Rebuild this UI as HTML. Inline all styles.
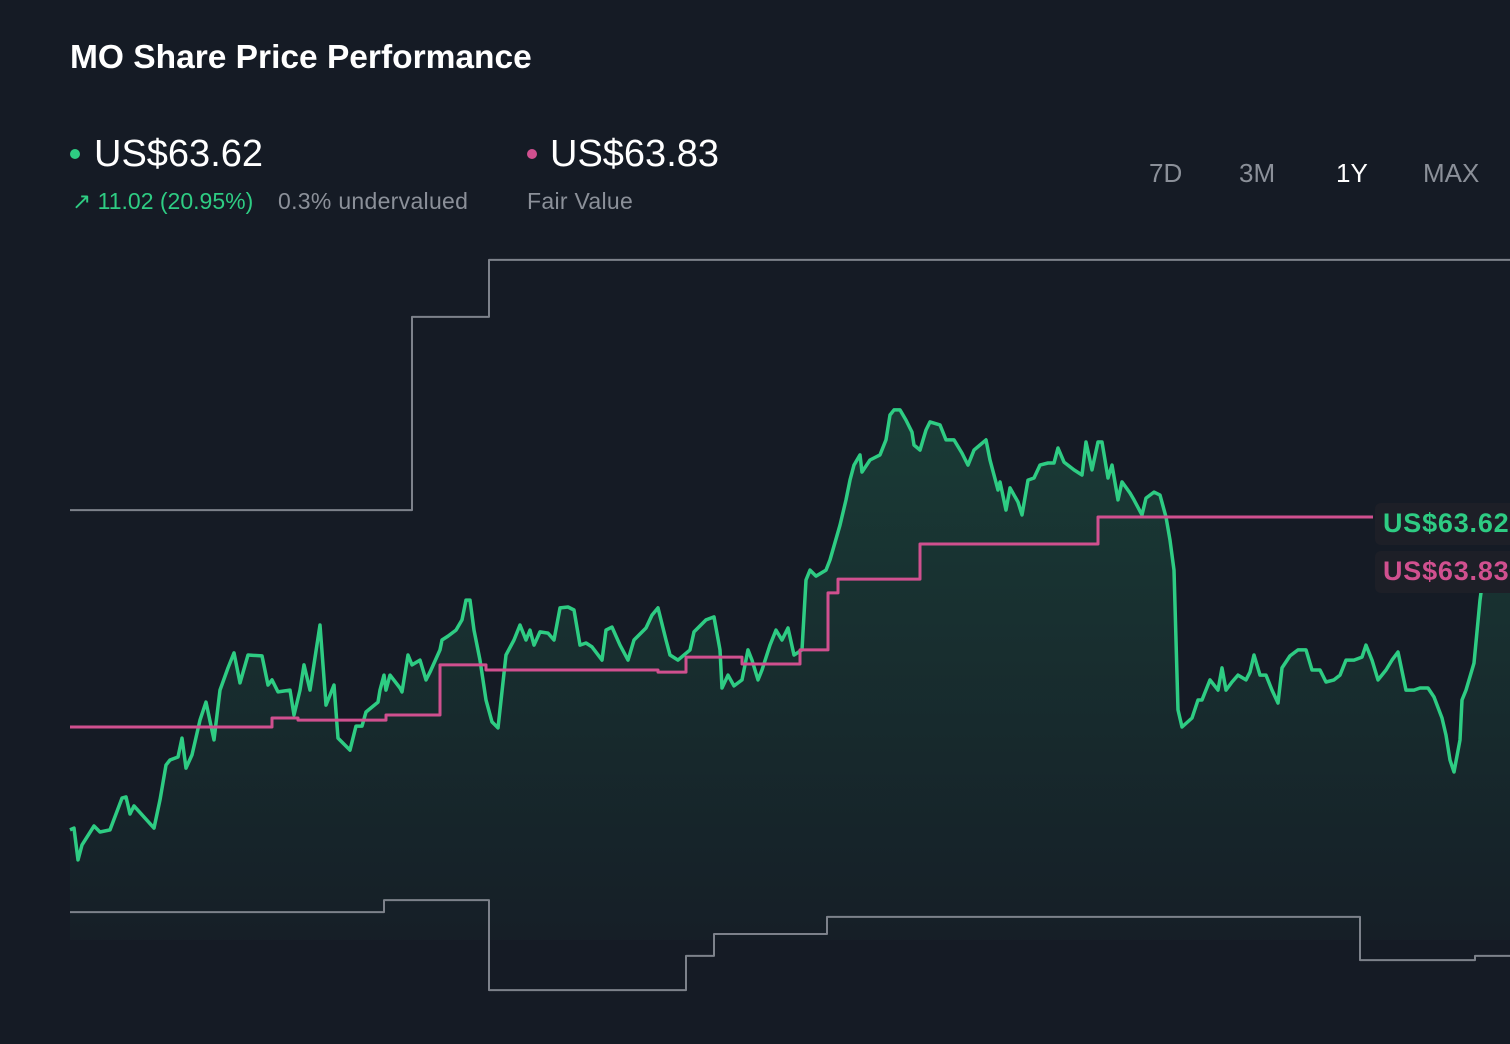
<!DOCTYPE html>
<html><head><meta charset="utf-8"><style>
body{margin:0;width:1510px;height:1044px;background:#151b25;overflow:hidden;font-family:"Liberation Sans",sans-serif;position:relative}
.a{position:absolute;white-space:nowrap}
</style></head><body>
<div class="a" style="left:70px;top:39px;font-size:33.5px;font-weight:bold;color:#fff">MO Share Price Performance</div>
<div class="a" style="left:70px;top:149px;width:10px;height:10px;border-radius:50%;background:#2ecc83"></div>
<div class="a" style="left:94px;top:133px;font-size:38px;color:#fff">US$63.62</div>
<div class="a" style="left:72px;top:188px;font-size:23px;color:#2ecc83">↗ 11.02 (20.95%)</div>
<div class="a" style="left:278px;top:188px;font-size:23px;color:#8b9099;letter-spacing:0.3px">0.3% undervalued</div>
<div class="a" style="left:527px;top:149px;width:10px;height:10px;border-radius:50%;background:#d0508f"></div>
<div class="a" style="left:550px;top:133px;font-size:38px;color:#fff">US$63.83</div>
<div class="a" style="left:527px;top:188px;font-size:23px;color:#8b9099;letter-spacing:0.3px">Fair Value</div>
<div class="a" style="left:1149px;top:158px;font-size:26px;color:#8b9099">7D</div>
<div class="a" style="left:1239px;top:158px;font-size:26px;color:#8b9099">3M</div>
<div class="a" style="left:1336px;top:158px;font-size:26px;color:#fff">1Y</div>
<div class="a" style="left:1423px;top:158px;font-size:26px;color:#8b9099">MAX</div>
<svg id="c" class="a" style="left:0;top:0" width="1510" height="1044">
<defs><linearGradient id="g" x1="0" y1="0" x2="0" y2="1"><stop offset="0" stop-color="#2ecc83" stop-opacity="0.18"/><stop offset="1" stop-color="#2ecc83" stop-opacity="0.02"/></linearGradient></defs>
</svg>
<div class="a" style="left:1375px;top:503px;width:150px;height:42px;background:#1d1f27;border-radius:6px;overflow:hidden"><span style="position:absolute;left:8px;top:5px;font-size:27px;font-weight:bold;color:#2ecc83;letter-spacing:0.8px">US$63.62</span></div>
<div class="a" style="left:1375px;top:551px;width:150px;height:42px;background:#1d1f27;border-radius:6px;overflow:hidden"><span style="position:absolute;left:8px;top:5px;font-size:27px;font-weight:bold;color:#d0508f;letter-spacing:0.8px">US$63.83</span></div>
<script>
const priceDays=[0,1,2,3,6,7.5,10,13,14,15,16,21,22.5,24,25,27,28,29,30.5,32.5,34,36,37.5,39.5,41,42.5,44.5,48,49.5,50.5,52,55,56,57.5,58.5,60,62.5,64,66,67,70,71.5,73,74,77,77.5,78.5,79,80,82.5,83,84.5,85.5,87.5,89,90,92.5,93,94.5,96.5,98,99,100,101,102.5,104,105.5,107,109,111,112.5,114,115,116,117.5,119.5,121,122.5,124.5,126,127.5,129,130.5,133,134,135.5,137.5,139.5,141,144,145.5,147,149,150,152,155,156,159,161,162.5,163,164.5,166,168,169.5,170.5,172,173,175,176.5,178,179.5,181,183,184,185,186.5,189,190,192.5,194,195,196,197.5,198,200,202.5,204,205,206,207.5,209,210.5,211,212.5,214,215,217.5,219,221,223,224.5,226,227.5,229,230,232,232.5,234,235,237,238,239.5,241,242.5,244.5,246,247,248.5,251,253,254,255.5,257,258,259.5,260.5,262,263,265,266,268,269,271,272.5,274,275,276,277,278,280.5,282,283,285,287,288,289,290.5,292,294,295,296,297.5,299,300.5,302,303,305,307,309,310.5,312.5,314,316,317.5,319,321,323,324,325.5,327,329,330.5,332,334,336,337.5,339.5,341,343,344,345,346,347.5,348,349,351,352.5,353,355,357.5,360];
const priceValues=[53.37,53.43,52.37,52.87,53.5,53.3,53.37,54.43,54.47,53.9,54.17,53.43,54.37,55.53,55.7,55.8,56.43,55.43,55.87,57.03,57.63,56.37,58.03,58.77,59.27,58.27,59.2,59.17,58.2,58.37,57.97,58.03,57.2,58.03,58.87,58.03,60.2,57.53,58.2,56.43,56.03,56.83,56.83,57.3,57.63,58.03,58.53,58.03,58.53,58.1,57.97,59.2,58.87,59.03,58.37,58.63,59.37,59.7,59.83,60.03,60.37,61.03,61.03,60.03,59.03,57.7,56.97,56.77,59.2,59.7,60.2,59.7,60.03,59.53,59.97,59.93,59.7,60.77,60.8,60.7,59.53,59.6,59.47,59.03,60.03,60.13,59.53,59.03,59.7,60.1,60.53,60.77,59.7,59.2,59.03,59.37,59.97,60.37,60.47,59.37,58.1,58.53,58.17,58.37,59.37,59.03,58.37,58.7,59.53,60.03,59.7,60.1,59.2,59.37,61.7,62.03,61.83,62.03,62.37,63.53,64.37,65.03,65.53,65.87,65.3,65.7,65.87,66.37,67.2,67.37,67.37,67.03,66.63,66.2,66.03,66.7,66.97,66.87,66.37,66.37,65.93,65.53,66.03,66.2,66.37,65.7,64.7,64.97,64.03,64.77,64.3,63.87,65.03,65.1,65.53,65.6,65.6,66.1,65.63,65.37,65.2,66.3,65.37,66.3,66.3,65.1,65.53,64.37,64.97,64.6,64.37,63.87,64.43,64.63,64.53,63.8,63.03,62.03,57.37,56.8,57.1,57.7,57.7,58.37,58.03,58.77,58.03,58.3,58.53,58.37,58.63,59.2,58.53,58.53,58.03,57.6,58.77,59.17,59.37,59.37,58.7,58.7,58.3,58.37,58.53,59.03,59.03,59.13,59.53,59.03,58.37,58.7,59.03,59.3,58.03,58.03,58.1,58.1,57.8,57.1,56.53,55.7,55.3,56.37,57.7,58.03,58.93,61.03,61.53,61.53,61.6,61.37];
const fairDays=[0,50.5,57,79,92.5,104,147,154,168,182.5,189.5,192,212.5,257,325.75];
const fairValues=[56.8,57.1,57.03,57.2,58.87,58.7,58.63,59.13,58.9,59.37,61.27,61.73,62.9,63.8];
const highDays=[0,85.5,104.75,360];
const highValues=[64.03,70.47,72.37];
const lowDays=[0,78.5,104.75,154,161,189.25,322.5,351.25,360];
const lowValues=[50.63,51.03,48.03,49.17,49.9,50.47,49.03,49.17];

const X=d=>70+d*4;
const Y=v=>517+(63.8-v)*30;
const svg=document.getElementById('c');
const NS='http://www.w3.org/2000/svg';
function stepPath(days,vals){let d='';for(let i=0;i<vals.length;i++){d+=(i?'L':'M')+X(days[i])+','+Y(vals[i])+'L'+X(days[i+1])+','+Y(vals[i]);}return d;}
function add(d,stroke,w,fill){const p=document.createElementNS(NS,'path');p.setAttribute('d',d);p.setAttribute('stroke',stroke);p.setAttribute('stroke-width',w);p.setAttribute('fill',fill||'none');p.setAttribute('stroke-linejoin','round');svg.appendChild(p);return p;}
let pd=priceDays.map((d,i)=>(i?'L':'M')+X(d)+','+Y(priceValues[i])).join('');
const area=add(pd+'L'+X(priceDays[priceDays.length-1])+',940L'+X(0)+',940Z','none',0,'url(#g)');


const hi=add(stepPath(highDays,highValues),'#7d828b',2);


const lo=add(stepPath(lowDays,lowValues),'#7d828b',2);


const pl=add(pd,'#2ecc83',3.5);


const fl=add(stepPath(fairDays,fairValues),'#d0508f',3);


</script>
</body></html>
